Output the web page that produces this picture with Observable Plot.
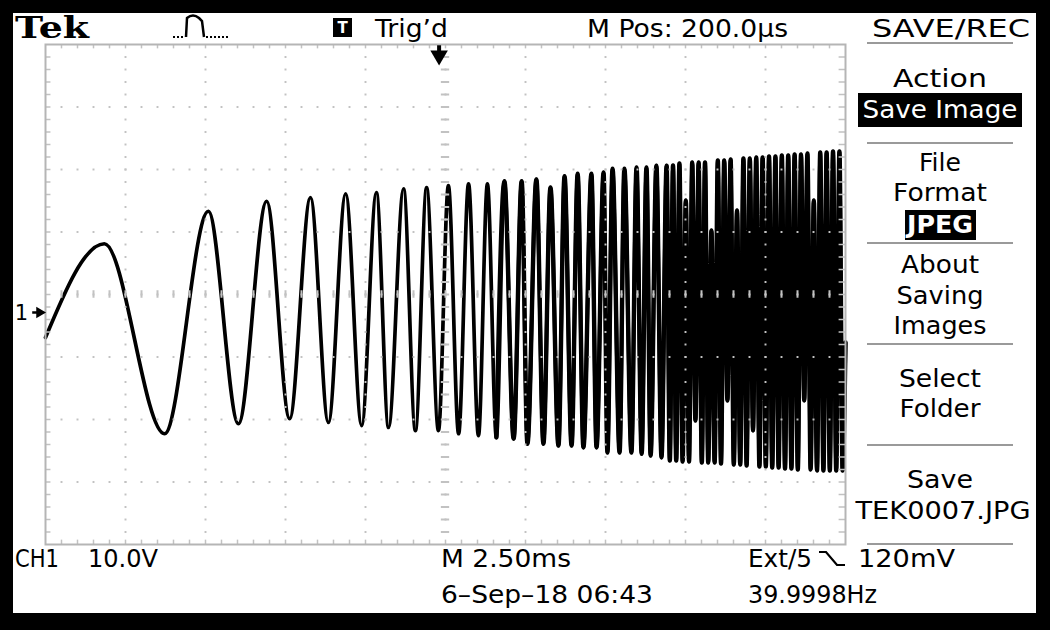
<!DOCTYPE html>
<html>
<head>
<meta charset="utf-8">
<script src="https://cdn.jsdelivr.net/npm/d3@7"></script>
<script src="https://cdn.jsdelivr.net/npm/@observablehq/plot@0.6"></script>
<style>
  html, body { margin: 0; padding: 0; background: #000; }
  #screen { position: absolute; left: 0; top: 0; width: 1050px; height: 630px; background: #000; overflow: hidden; }
  #panel { position: absolute; left: 13px; top: 13px; width: 1023px; height: 600px; background: #fff; }
  #chart { position: absolute; left: 0; top: 0; }
</style>
</head>
<body>
<div id="screen"><div id="panel"></div><div id="chart"></div></div>
<script>
// ---- Waveform: time (ms from left edge) and CH1 volts (relative to ground marker) ----
const timeMs = [
  0, 1.84, 3.72, 5.09, 6.03, 6.91, 7.63, 8.28, 8.84, 9.38,
  9.88, 10.34, 10.72, 11.19, 11.56, 11.91, 12.28, 12.59, 12.91, 13.22,
  13.53, 13.81, 14.09, 14.34, 14.63, 14.88, 15.06, 15.34, 15.56, 15.78,
  16.03, 16.22, 16.44, 16.63, 16.81, 17.06, 17.22, 17.44, 17.56, 17.72,
  17.94, 18.09, 18.31, 18.47, 18.63, 18.78, 18.91, 19.09, 19.25, 19.41,
  19.51, 19.61, 19.71, 19.81, 19.91, 20.01, 20.11, 20.21, 20.31, 20.41,
  20.51, 20.61, 20.71, 20.81, 20.91, 21.01, 21.11, 21.21, 21.31, 21.41,
  21.51, 21.61, 21.71, 21.81, 21.91, 22.01, 22.11, 22.21, 22.31, 22.41,
  22.51, 22.61, 22.71, 22.81, 22.91, 23.01, 23.11, 23.21, 23.31, 23.41,
  23.51, 23.61, 23.71, 23.81, 23.91, 24.01, 24.11, 24.21, 24.31, 24.41,
  24.51, 24.61, 24.71, 24.81, 24.91, 25.0
];
const volts = [
  -4.0, 11.0, -19.4, 16.2, -17.8, 17.8, -17.0, 18.4, -17.6, 19.0,
  -18.1, 19.2, -18.4, 19.8, -18.9, 20.0, -18.9, 20.3, -19.4, 20.6,
  -19.7, 20.6, -20.0, 21.0, -20.2, 21.0, -21.0, 21.3, -21.0, 20.0,
  -21.3, 21.8, -21.3, 22.2, -21.6, 22.2, -21.6, 22.4, -22.4, 23.0,
  -22.4, 23.0, -22.4, 23.2, -22.6, 23.2, -22.9, 23.5, -23.2, 23.5,
  -23.68, 23.52, -23.68, 23.84, -23.84, 17.92, -23.84, 24.0, -17.28, 24.0,
  -24.0, 24.0, -24.0, 13.12, -24.0, 24.32, -24.16, 24.32, -14.08, 24.48,
  -24.32, 16.32, -24.32, 24.64, -24.48, 24.64, -18.88, 24.8, -24.64, 24.8,
  -24.64, 24.96, -24.8, 24.96, -24.8, 25.12, -24.96, 25.12, -24.96, 25.28,
  -25.12, 25.28, -14.08, 25.44, -25.12, 17.92, -25.28, 25.6, -25.28, 25.6,
  -25.28, 25.76, -25.28, 25.76, -25.28, -4.8
];

// ---- Scope settings ----
const msPerDiv = 2.5;          // M 2.50ms
const voltsPerDiv = 10;        // CH1 10.0V
const hDivs = 10, vDivs = 8, minorPerDiv = 5;
const screenCenterV = 2.88;    // screen centre relative to the CH1 ground marker
const triggerMs = 12.3;        // M Pos: 200.0µs left of centre

// ---- Texts ----
const headerLabels = ["Tek", "Trig’d", "M Pos: 200.0µs", "SAVE/REC"];
const menuLabels = ["Action", "Save Image", "File", "Format", "JPEG", "About", "Saving", "Images", "Select", "Folder", "Save", "TEK0007.JPG"];
const footerLabels = ["CH1", "10.0V", "M 2.50ms", "Ext/5", "120mV", "6–Sep–18 06:43", "39.9998Hz"];
const channelMarker = "1";

// ---- Build ----
const trace = timeMs.map((t, i) => ({t, v: volts[i]}));
const denseTrace = trace.filter(d => d.t >= 14.09);   // heavier raster where the sweep gets fast
const x0 = 0, x1 = hDivs * msPerDiv;
const yLo = screenCenterV - vDivs / 2 * voltsPerDiv, yHi = screenCenterV + vDivs / 2 * voltsPerDiv;
const minorMs = msPerDiv / minorPerDiv, minorV = voltsPerDiv / minorPerDiv;
const majorXs = d3.range(1, hDivs).map(k => k * msPerDiv);
const minorXs = d3.range(1, hDivs * minorPerDiv).map(k => k * minorMs);
const majorYs = d3.range(1, vDivs).map(k => yLo + k * voltsPerDiv);
const minorYs = d3.range(1, vDivs * minorPerDiv).map(k => yLo + k * minorV);
const dotsOnV = majorXs.flatMap(x => minorYs.map(y => ({x, y})));
const dotsOnH = majorYs.flatMap(y => minorXs.map(x => ({x, y})));
const gridColor = "#c2c2c2";
const midX = x1 / 2;

const plot = Plot.plot({
  width: 1050, height: 630,
  marginLeft: 45, marginRight: 205, marginTop: 44, marginBottom: 86,
  x: {domain: [x0, x1], axis: null},
  y: {domain: [yLo, yHi], axis: null},
  style: {background: "transparent", overflow: "visible"},
  marks: [
    Plot.line(trace, {x: "t", y: "v", curve: "monotone-x", stroke: "#000", strokeWidth: 3.7, strokeLinejoin: "miter"}),
    Plot.line(denseTrace, {x: "t", y: "v", curve: "monotone-x", stroke: "#000", strokeWidth: 4.4, strokeLinejoin: "miter"}),
    Plot.dot(dotsOnV, {x: "x", y: "y", symbol: "square", r: 1.1, fill: gridColor, stroke: "none"}),
    Plot.dot(dotsOnH, {x: "x", y: "y", symbol: "square", r: 1.1, fill: gridColor, stroke: "none"}),
    // centre cross tick marks
    Plot.ruleY(minorYs, {y: d => d, x1: midX - 0.13, x2: midX + 0.13, stroke: gridColor, strokeWidth: 2}),
    Plot.ruleX(minorXs, {x: d => d, y1: screenCenterV - 0.6, y2: screenCenterV + 0.6, stroke: gridColor, strokeWidth: 2}),
    // border ticks
    Plot.ruleX(minorXs, {x: d => d, y1: yHi, y2: yHi - 0.7, stroke: gridColor, strokeWidth: 1.5}),
    Plot.ruleX(minorXs, {x: d => d, y1: yLo, y2: yLo + 0.7, stroke: gridColor, strokeWidth: 1.5}),
    Plot.ruleY(minorYs, {y: d => d, x1: x0, x2: x0 + 0.17, stroke: gridColor, strokeWidth: 1.5}),
    Plot.ruleY(minorYs, {y: d => d, x1: x1, x2: x1 - 0.2, stroke: gridColor, strokeWidth: 1.5}),
    Plot.frame({stroke: "#b5b5b5", strokeWidth: 2}),
    // trigger position marker
    Plot.ruleX([triggerMs], {x: d => d, y1: yHi - 0.2, y2: yHi - 1.3, stroke: "#000", strokeWidth: 4}),
    Plot.dot([triggerMs], {x: d => d, y: yHi - 1.75, symbol: "triangle", rotate: 180, r: 6.5, fill: "#000", stroke: "none"}),
    // CH1 ground marker
    Plot.text([0], {x: x0, y: 0, text: () => channelMarker, dx: -24, dy: 1, fontSize: 21, fill: "#000", fontFamily: "DejaVu Sans"}),
    Plot.ruleY([0], {y: d => d, x1: x0 - 0.4, x2: x0 - 0.15, stroke: "#000", strokeWidth: 2.5}),
    Plot.dot([0], {x: x0, y: 0, dx: -6, symbol: "triangle", rotate: 90, r: 4.2, fill: "#000", stroke: "none"})
  ]
});
document.getElementById("chart").appendChild(plot);

// ---- Screen annotations ----
const svg = d3.select(plot);
const g = svg.append("g");
function label(txt, x, y, w, size, o = {}) {
  const t = g.append("text")
    .attr("x", x).attr("y", y)
    .attr("font-family", o.family || "DejaVu Sans")
    .attr("font-size", size)
    .attr("font-weight", o.weight || "normal")
    .attr("fill", o.fill || "#000")
    .attr("text-anchor", o.anchor || "start")
    .text(txt);
  if (w) t.attr("textLength", w).attr("lengthAdjust", "spacingAndGlyphs");
  return t;
}
function box(x, y, w, h) { g.append("rect").attr("x", x).attr("y", y).attr("width", w).attr("height", h).attr("fill", "#000"); }
function sep(y) { g.append("line").attr("x1", 867).attr("x2", 1013).attr("y1", y).attr("y2", y).attr("stroke", "#9a9a9a").attr("stroke-width", 2); }

// header
label(headerLabels[0], 15, 38, 74, 29, {family: "DejaVu Serif", weight: "bold"});
g.append("path").attr("d", "M173,37H185").attr("stroke", "#000").attr("stroke-width", 2).attr("stroke-dasharray", "2,2").attr("fill", "none");
g.append("path").attr("d", "M186,37L187,18Q193,13 199,18L202,21L204,37").attr("stroke", "#000").attr("stroke-width", 2.5).attr("fill", "none");
g.append("path").attr("d", "M206,37H230").attr("stroke", "#000").attr("stroke-width", 2).attr("stroke-dasharray", "2,2").attr("fill", "none");
box(333, 18, 19, 19);
label("T", 342.5, 33, null, 15, {fill: "#fff", weight: "bold", anchor: "middle"});
label(headerLabels[1], 375, 37, 73, 25);
label(headerLabels[2], 587, 37, 201, 25);
label(headerLabels[3], 872, 37, 158, 25);
sep(43);

// menu
const mx = 940;
label(menuLabels[0], mx, 87, 94, 25, {anchor: "middle"});
box(858, 93, 164, 34);
label(menuLabels[1], mx, 118, 155, 25, {anchor: "middle", fill: "#fff"});
sep(143);
label(menuLabels[2], mx, 171, 42, 25, {anchor: "middle"});
label(menuLabels[3], mx, 201, 94, 25, {anchor: "middle"});
box(905, 210, 71, 30);
label(menuLabels[4], mx, 233, 66, 24, {anchor: "middle", fill: "#fff", weight: "bold"});
sep(243);
label(menuLabels[5], mx, 273, 78, 25, {anchor: "middle"});
label(menuLabels[6], mx, 304, 87, 25, {anchor: "middle"});
label(menuLabels[7], mx, 334, 93, 25, {anchor: "middle"});
sep(344);
label(menuLabels[8], mx, 387, 82, 25, {anchor: "middle"});
label(menuLabels[9], mx, 417, 81, 25, {anchor: "middle"});
sep(445);
label(menuLabels[10], mx, 488, 66, 25, {anchor: "middle"});
label(menuLabels[11], 943, 519, 175, 25, {anchor: "middle"});
sep(544);

// footer
label(footerLabels[0], 15, 567, 44, 24);
label(footerLabels[1], 88, 567, 70, 24);
label(footerLabels[2], 441, 567, 130, 24);
label(footerLabels[3], 748, 567, 64, 24);
g.append("path").attr("d", "M819,552H826L837,565H845").attr("stroke", "#000").attr("stroke-width", 2.2).attr("fill", "none");
label(footerLabels[4], 858, 567, 97, 24);
label(footerLabels[5], 441, 603, 212, 24);
label(footerLabels[6], 748, 603, 129, 24);
</script>
</body>
</html>
